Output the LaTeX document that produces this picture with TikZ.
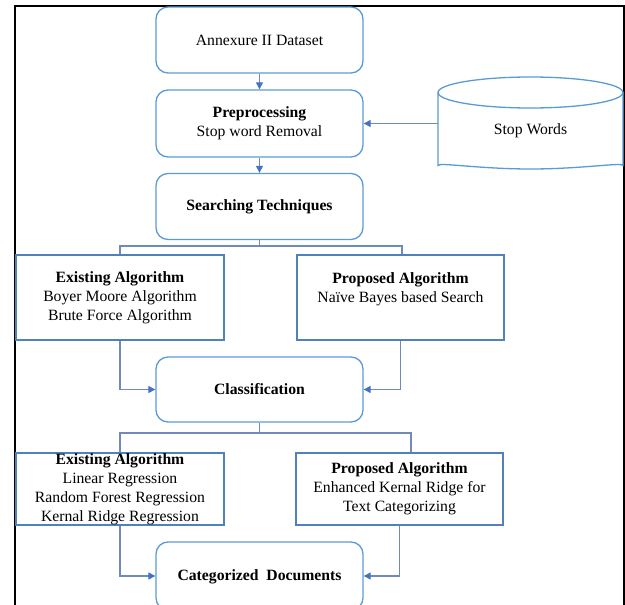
\documentclass[tikz,border=0pt]{standalone}
\usepackage{fontspec}
\setmainfont{Liberation Serif}
\usetikzlibrary{arrows.meta}
\definecolor{rbox}{RGB}{91,155,213}
\definecolor{sbox}{RGB}{79,129,189}
\definecolor{conn}{RGB}{112,138,186}
\definecolor{arr}{RGB}{68,114,196}
\begin{document}
\begin{tikzpicture}[x=1pt,y=-1pt,
  rbox/.style={draw=rbox,line width=1.3pt,rounded corners=12pt,minimum width=207pt,align=center,font=\fontsize{15.7}{19}\selectfont},
  sbox/.style={draw=sbox,line width=1.3pt,minimum width=208pt,align=center,font=\fontsize{15.7}{19}\selectfont},
  conn/.style={draw=conn,line width=1.1pt},
  arrow/.style={conn,-{Triangle[length=7pt,width=7pt,fill=arr,color=arr]}}]
\useasboundingbox (0,0) rectangle (625,605);
\begin{scope}
\clip (0,0) rectangle (625,605);
% frame
\draw[line width=2pt,black] (15,620) -- (15,5.5) -- (623.5,5.5) -- (623.5,620);
% boxes
\node[rbox,minimum height=66pt] (ann) at (259.5,40) {Annexure II Dataset};
\node[rbox,minimum height=67pt] (pre) at (259.5,123.5) {\textbf{Preprocessing}\\Stop word Removal};
\node[rbox,minimum height=66pt] (sea) at (259.5,206.5) {\textbf{Searching Techniques}};
\node[sbox,minimum height=85pt] (ex1) at (120,297.5) {\textbf{Existing Algorithm}\\Boyer Moore Algorithm\\Brute Force Algorithm};
\node[sbox,minimum width=207pt,minimum height=85pt] (pr1) at (400.5,297.5) {\textbf{Proposed Algorithm}\\Naïve Bayes based Search\\\mbox{}};
\node[rbox,minimum height=65pt] (cla) at (259.5,389.5) {\textbf{Classification}};
\node[sbox,minimum height=72pt,inner ysep=-1.5pt] (ex2) at (120,489) {\textbf{Existing Algorithm}\\Linear Regression\\Random Forest Regression\\Kernal Ridge Regression};
\node[sbox,minimum width=207pt,minimum height=72pt] (pr2) at (399.5,489) {\textbf{Proposed Algorithm}\\Enhanced Kernal Ridge for\\Text Categorizing};
\node[rbox,minimum height=68pt,text depth=0pt] (cat) at (259.5,576) {\raisebox{1pt}{\textbf{Categorized\ \ Documents}}};
% cylinder
\draw[rbox,line width=1.3pt,fill=white] (438,92.5) -- (438,153.5) arc[start angle=180,end angle=0,x radius=92.5,y radius=15.5] -- (623,92.5);
\draw[rbox,line width=1.3pt] (530.5,92.5) ellipse [x radius=92.5,y radius=15.5];
\node[font=\fontsize{15.7}{19}\selectfont] (sw) at (530.5,131) {Stop Words};
\coordinate (swl) at (438,123.5);
% connectors
\draw[arrow] (ann) -- (pre);
\draw[arrow] (pre) -- (sea);
\draw[arrow] (swl) -- (pre.east);
\coordinate (b1) at (259.5,246);
\coordinate (b1r) at (402,246);
\draw[conn] (sea.south) -- (b1);
\draw[conn] (ex1.north) |- (b1r) -- (b1r |- pr1.north);
\draw[arrow] (ex1.south) |- (cla.west);
\draw[arrow] (pr1.south) |- (cla.east);
\coordinate (b2) at (259.5,433);
\coordinate (b2r) at (411,433);
\draw[conn] (cla.south) -- (b2);
\draw[conn] (ex2.north) |- (b2r) -- (b2r |- pr2.north);
\draw[arrow] (ex2.south) |- (cat.west);
\draw[arrow] (pr2.south) |- (cat.east);
\end{scope}
\end{tikzpicture}
\end{document}
